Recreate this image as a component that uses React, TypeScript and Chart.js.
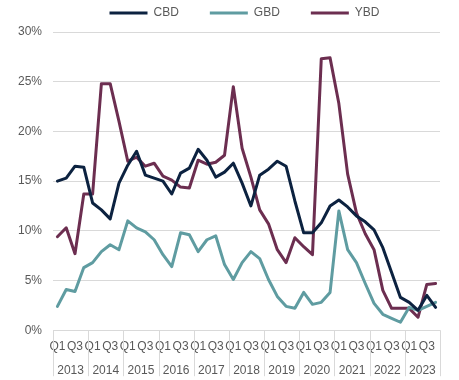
import React, { useEffect, useRef } from "react";
import { Chart, registerables } from "chart.js";

Chart.register(...registerables);

const years = ["2013", "2014", "2015", "2016", "2017", "2018", "2019", "2020", "2021", "2022", "2023"];
const quarterNames = ["Q1", "Q2", "Q3", "Q4"];
const quarterTickLabels = ["Q1", "", "Q3", ""];
const yTicks = [0, 5, 10, 15, 20, 25, 30];

const cbd = [
  15.0, 15.3, 16.5, 16.4,
  12.8, 12.1, 11.2, 14.8,
  16.6, 18.0, 15.6, 15.3,
  15.0, 13.7, 15.8, 16.3,
  18.2, 17.1, 15.4, 15.9,
  16.8, 14.8, 12.5, 15.6,
  16.2, 17.0, 16.5, 13.0,
  9.8, 9.8, 10.8, 12.5,
  13.1, 12.4, 11.5, 10.9,
  10.1, 8.3, 5.8, 3.3,
  2.8, 2.0, 3.5, 2.3,
];

const gbd = [
  2.4, 4.1, 3.9, 6.3,
  6.8, 7.9, 8.6, 8.1,
  11.0, 10.3, 9.9, 9.1,
  7.6, 6.4, 9.8, 9.6,
  7.9, 9.1, 9.5, 6.6,
  5.1, 6.8, 7.9, 7.2,
  5.1, 3.4, 2.4, 2.2,
  3.8, 2.6, 2.8, 3.8,
  12.0, 8.1, 6.8, 4.7,
  2.7, 1.6, 1.2, 0.8,
  2.3, 2.0, 2.4, 2.8,
];

const ybd = [
  9.4, 10.3, 7.7, 13.7,
  13.7, 24.8, 24.8, 21.0,
  17.0, 17.4, 16.5, 16.8,
  15.5, 15.1, 14.4, 14.3,
  17.1, 16.7, 16.9, 17.6,
  24.5, 18.3, 15.4, 12.1,
  10.7, 8.1, 6.8, 9.3,
  8.4, 7.6, 27.3, 27.4,
  22.8, 15.7, 11.8, 9.7,
  8.1, 4.0, 2.2, 2.2,
  2.2, 1.3, 4.6, 4.7,
];

const categories = years.flatMap((y) => quarterNames.map((q) => `${y} ${q}`));

const TEXT = "#595959";
const GRID = "#d9d9d9";
const FONT = { family: "'Liberation Sans', Arial, sans-serif", size: 12 };

const yearDividers = {
  id: "yearDividers",
  afterDraw(chart: any) {
    const x = chart.scales.x;
    const { ctx, chartArea } = chart;
    const half = (x.getPixelForValue(1) - x.getPixelForValue(0)) / 2;
    ctx.save();
    ctx.strokeStyle = GRID;
    ctx.lineWidth = 1;
    for (let k = 0; k <= years.length; k++) {
      const px = Math.round(x.getPixelForValue(k * 4) - half) + 0.5;
      ctx.beginPath();
      ctx.moveTo(px, chartArea.bottom);
      ctx.lineTo(px, chartArea.bottom + 46);
      ctx.stroke();
    }
    ctx.restore();
  },
};

const legendCenter = {
  id: "legendCenter",
  afterLayout(chart: any) {
    const l = chart.legend;
    if (!l) return;
    const ca = chart.chartArea;
    const shift = (ca.left + ca.right) / 2 - (l.left + l.right) / 2 - 2;
    l.left += shift;
    l.right += shift;
  },
};

export default function App() {
  const ref = useRef<HTMLCanvasElement | null>(null);
  useEffect(() => {
    if (!ref.current) return;
    const mk = (label: string, data: number[], color: string) => ({
      label,
      data,
      borderColor: color,
      backgroundColor: color,
      borderWidth: 3,
      pointRadius: 0,
      pointHoverRadius: 0,
      pointStyle: "line",
      borderCapStyle: "round",
      borderJoinStyle: "round",
      tension: 0,
      fill: false,
    });
    const chart = new Chart(ref.current, {
      type: "line",
      data: {
        labels: categories,
        datasets: [
          mk("CBD", cbd, "#0c2240"),
          mk("GBD", gbd, "#5f9ca1"),
          mk("YBD", ybd, "#6c2e50"),
        ],
      },
      plugins: [yearDividers, legendCenter],
      options: {
        animation: false,
        responsive: true,
        maintainAspectRatio: false,
        layout: { padding: { top: -24, left: 7, right: 19, bottom: 1 } },
        plugins: {
          legend: {
            position: "top",
            labels: {
              usePointStyle: true,
              pointStyleWidth: 38,
              padding: 31,
              color: TEXT,
              font: FONT,
            },
          },
          subtitle: {
            display: true,
            text: "",
            weight: 0,
            padding: 0,
            font: { size: 2.5 },
          },
          tooltip: { enabled: false },
        },
        scales: {
          x: {
            type: "category",
            offset: true,
            weight: 0,
            grid: { display: false, drawTicks: false },
            border: { display: false },
            ticks: {
              autoSkip: false,
              maxRotation: 0,
              minRotation: 0,
              padding: 9,
              color: TEXT,
              font: FONT,
              callback: (_v: any, i: number) => quarterTickLabels[i % 4],
            },
          },
          x2: {
            type: "category",
            labels: years,
            offset: true,
            position: "bottom",
            weight: 1,
            grid: { display: false, drawTicks: false },
            border: { display: false },
            ticks: { autoSkip: false, maxRotation: 0, padding: 1, color: TEXT, font: FONT },
          },
          y: {
            min: 0,
            max: 30,
            afterBuildTicks: (axis: any) => {
              axis.ticks = yTicks.map((v) => ({ value: v }));
            },
            grid: { color: GRID, drawTicks: false },
            border: { display: false },
            ticks: {
              padding: 11,
              color: TEXT,
              font: FONT,
              callback: (v: any) => `${v}%`,
            },
          },
        },
      } as any,
    });
    return () => chart.destroy();
  }, []);
  return (
    <div style={{ position: "fixed", left: 0, top: 0, width: 459, height: 380, background: "#fff" }}>
      <canvas ref={ref} />
    </div>
  );
}
